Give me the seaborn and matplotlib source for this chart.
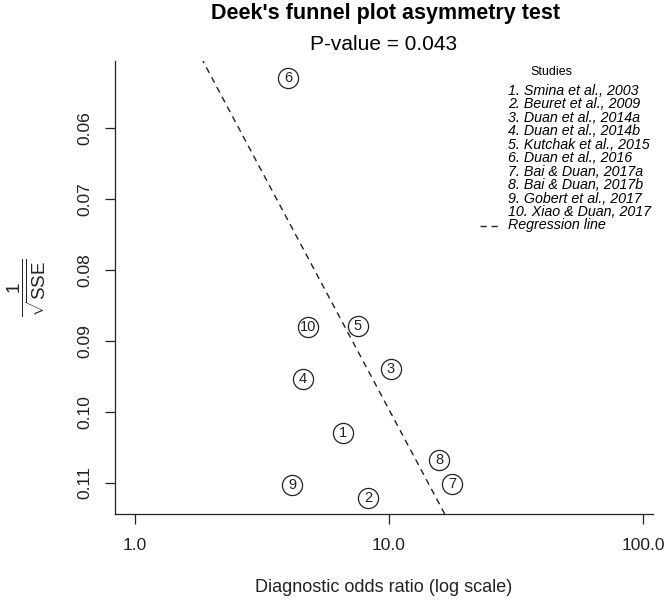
import numpy as np
import pandas as pd
import matplotlib
matplotlib.use("Agg")
import matplotlib.pyplot as plt
from matplotlib.lines import Line2D
import seaborn as sns

# study data
studies = ["Smina et al., 2003", "Beuret et al., 2009", "Duan et al., 2014a",
           "Duan et al., 2014b", "Kutchak et al., 2015", "Duan et al., 2016",
           "Bai & Duan, 2017a", "Bai & Duan, 2017b", "Gobert et al., 2017",
           "Xiao & Duan, 2017"]
dor = [6.59, 8.27, 10.18, 4.59, 7.55, 4.00, 17.70, 15.73, 4.15, 4.80]
inv_sqrt_ess = [0.1030, 0.1121, 0.0939, 0.0954, 0.0879, 0.0530, 0.1101, 0.1068, 0.1103, 0.0880]

# regression line: log10(DOR) = intercept + slope * (1/sqrt(ESS))
reg_intercept = -0.487
reg_slope = 14.92

x_ticks = [1, 10, 100]
x_ticklabels = ["1.0", "10.0", "100.0"]
y_ticks = [0.06, 0.07, 0.08, 0.09, 0.10, 0.11]
y_ticklabels = ["0.06", "0.07", "0.08", "0.09", "0.10", "0.11"]

df = pd.DataFrame({"study": studies, "dor": dor, "prec": inv_sqrt_ess,
                   "num": [str(i + 1) for i in range(len(studies))]})

sns.set_style("ticks")
plt.rcParams["font.family"] = ["Liberation Sans", "DejaVu Sans"]
plt.rcParams["mathtext.fontset"] = "custom"
plt.rcParams["mathtext.rm"] = "Liberation Sans"
plt.rcParams["mathtext.it"] = "Liberation Sans:italic"

ink = "#222222"
fig = plt.figure(figsize=(6.68, 6.0), dpi=100)
ax = fig.add_axes([115 / 668, 1 - 514 / 600, 538 / 668, 453 / 600])

ylim = (0.11437, 0.05056)
ax.set_xscale("log")
ax.set_xlim(0.834, 109.5)
ax.set_ylim(*ylim)

# regression line across the full y range
yy = np.array(ylim)
xx = 10 ** (reg_intercept + reg_slope * yy)
ax.plot(xx, yy, color=ink, lw=1.0, linestyle=(0, (4.5, 3.5)))

sns.scatterplot(data=df, x="dor", y="prec", ax=ax, s=210, color="white",
                edgecolor=ink, linewidth=0.9, zorder=3, legend=False)
for _, r in df.iterrows():
    ax.text(r["dor"], r["prec"], r["num"], ha="center", va="center",
            fontsize=10.5, color=ink, zorder=4)

ax.set_xticks(x_ticks)
ax.set_xticklabels(x_ticklabels)
ax.xaxis.set_minor_locator(matplotlib.ticker.NullLocator())
ax.set_yticks(y_ticks)
ax.set_yticklabels(y_ticklabels)
ax.tick_params(axis="both", length=7.2, width=0.9, color=ink, labelsize=12.5,
               labelcolor=ink)
ax.tick_params(axis="x", pad=10)
ax.tick_params(axis="y", pad=9)
plt.setp(ax.get_yticklabels(), rotation=90, va="center")

sns.despine(ax=ax)
for side in ["left", "bottom"]:
    ax.spines[side].set_color(ink)
    ax.spines[side].set_linewidth(0.9)

ax.set_xlabel("Diagnostic odds ratio (log scale)", fontsize=13, color=ink, va="center")
ax.xaxis.set_label_coords(0.5, (514 - 588) / 453)
ax.set_ylabel(r"$\dfrac{1}{\sqrt{\mathrm{SSE}}}$", fontsize=13.5, color=ink,
              rotation=90, ha="center", va="center", rotation_mode="default")
ax.yaxis.set_label_coords((27 - 115) / 538, 0.5)

fig.text(386 / 668, 1 - 13 / 600, "Deek's funnel plot asymmetry test",
         ha="center", va="center", fontsize=15.5, fontweight="bold", color="black")
fig.text(384 / 668, 1 - 44 / 600, "P-value = 0.043",
         ha="center", va="center", fontsize=15, color="black")

# legend block
fig.text(551 / 668, 1 - 72 / 600, "Studies", ha="center", va="center",
         fontsize=9, color="black")
row_y = 91
for i, name in enumerate(studies):
    fig.text(508 / 668, 1 - (row_y + i * 13.45) / 600, f"{i + 1}. {name}",
             ha="left", va="center", fontsize=10.3, style="italic", color="black")
reg_y = 1 - (row_y + len(studies) * 13.45) / 600
fig.add_artist(Line2D([480 / 668, 498 / 668], [reg_y, reg_y], color=ink, lw=1.0,
                      linestyle=(0, (4.5, 3.5)), transform=fig.transFigure))
fig.text(508 / 668, reg_y, "Regression line", ha="left", va="center",
         fontsize=10.3, style="italic", color="black")

fig.savefig("out.png", dpi=100)
